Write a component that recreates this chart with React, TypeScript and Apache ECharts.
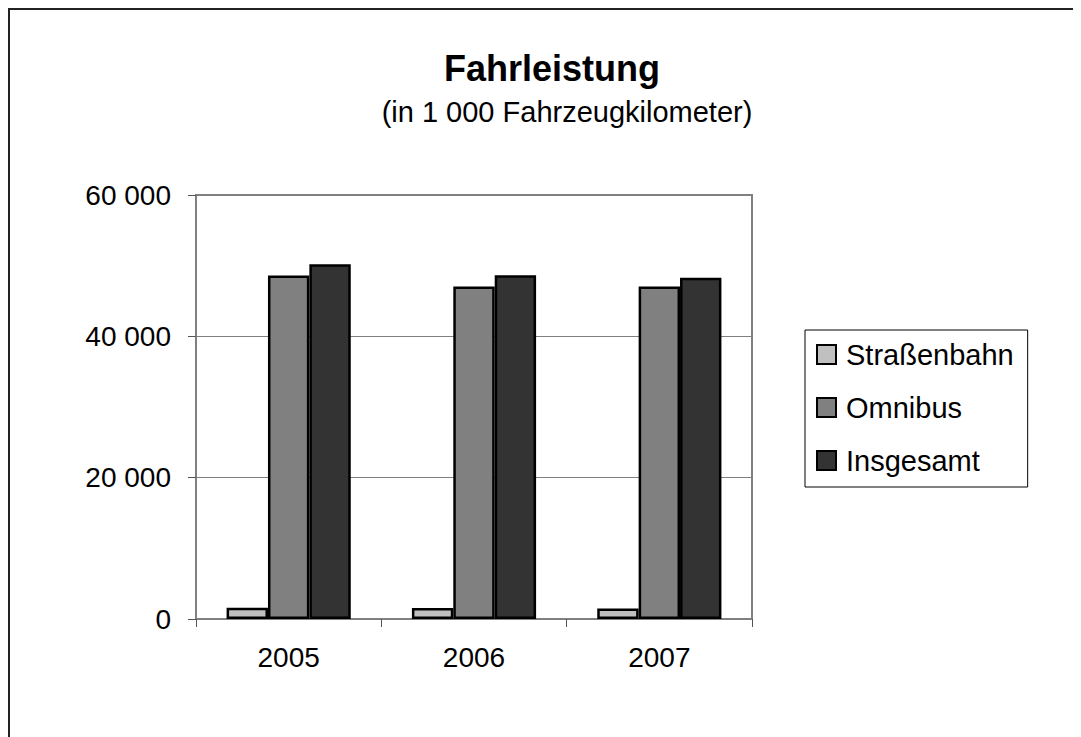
import React, { useEffect, useRef } from "react";
import * as echarts from "echarts";

const categories = ["2005", "2006", "2007"];
const strassenbahn = [1600, 1550, 1500];
const omnibus = [48600, 47050, 47050];
const insgesamt = [50200, 48650, 48300];
const seriesNames = ["Straßenbahn", "Omnibus", "Insgesamt"];
const seriesColors = ["#C0C0C0", "#808080", "#333333"];
const yTicks = { min: 0, max: 60000, interval: 20000 };

const FONT = "'Liberation Sans', Arial, sans-serif";
const W = 1081;
const H = 737;

function fmt(v: number): string {
  return String(v).replace(/\B(?=(\d{3})+(?!\d))/g, " ");
}

export default function App() {
  const ref = useRef<HTMLDivElement>(null);
  useEffect(() => {
    document.body.style.overflow = "hidden";
    if (!ref.current) return;
    const chart = echarts.init(ref.current, undefined, { renderer: "svg" });
    const data = [strassenbahn, omnibus, insgesamt];
    chart.setOption({
      animation: false,
      backgroundColor: "#ffffff",
      graphic: [
        {
          type: "line",
          shape: { x1: 1, y1: 0, x2: 1, y2: H },
          style: { stroke: "#222222", lineWidth: 2 },
          silent: true,
        },
        {
          type: "line",
          shape: { x1: 0, y1: 1, x2: W, y2: 1 },
          style: { stroke: "#222222", lineWidth: 2 },
          silent: true,
        },
        {
          type: "text",
          x: 544,
          y: 60,
          style: {
            text: "Fahrleistung",
            font: `bold 36px ${FONT}`,
            fill: "#000",
            textAlign: "center",
            textVerticalAlign: "middle",
          },
        },
        {
          type: "text",
          x: 559,
          y: 104,
          style: {
            text: "(in 1 000 Fahrzeugkilometer)",
            font: `29px ${FONT}`,
            fill: "#000",
            textAlign: "center",
            textVerticalAlign: "middle",
          },
        },
      ],
      grid: {
        left: 188,
        top: 187,
        right: W - 744,
        bottom: H - 611,
        show: true,
        borderColor: "#808080",
        borderWidth: 2,
        containLabel: false,
      },
      legend: {
        orient: "vertical",
        left: 797,
        top: 322,
        padding: [8, 14, 10, 11],
        itemGap: 20,
        itemWidth: 19,
        itemHeight: 19,
        icon: "rect",
        borderColor: "#000",
        borderWidth: 1,
        backgroundColor: "#fff",
        data: seriesNames,
        textStyle: {
          fontFamily: FONT,
          fontSize: 29,
          color: "#000",
          lineHeight: 33,
          padding: [0, 0, 0, 5],
        },
      },
      xAxis: {
        type: "category",
        data: categories,
        axisLine: { lineStyle: { color: "#808080", width: 2 } },
        axisTick: { show: true, length: 8, lineStyle: { color: "#555", width: 1 } },
        axisLabel: { fontFamily: FONT, fontSize: 28, color: "#000", margin: 24 },
      },
      yAxis: {
        type: "value",
        min: yTicks.min,
        max: yTicks.max,
        interval: yTicks.interval,
        axisLine: { show: true, lineStyle: { color: "#808080", width: 2 } },
        axisTick: { show: true, length: 8, lineStyle: { color: "#555", width: 1 } },
        splitLine: { show: true, lineStyle: { color: "#808080", width: 1 } },
        axisLabel: {
          fontFamily: FONT,
          fontSize: 28,
          color: "#000",
          margin: 25,
          formatter: (v: number) => fmt(v),
        },
      },
      series: seriesNames.map((name, i) => ({
        name,
        type: "bar",
        data: data[i],
        barGap: "0%",
        barCategoryGap: "33%",
        itemStyle: { color: seriesColors[i], borderColor: "#000", borderWidth: 2.5 },
      })),
    });
    return () => chart.dispose();
  }, []);
  return <div ref={ref} style={{ width: W, height: H }} />;
}
